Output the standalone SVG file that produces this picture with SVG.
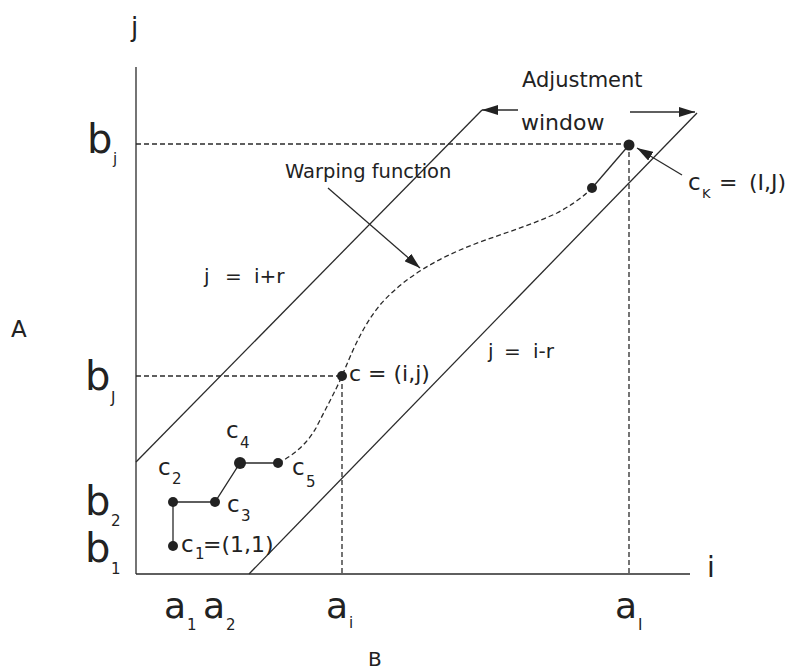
<svg xmlns="http://www.w3.org/2000/svg" width="799" height="671" viewBox="0 0 799 671">
<defs>
<style>
.ln{stroke:#2a2a2a;stroke-width:1.3;fill:none}
.ds{stroke:#2a2a2a;stroke-width:1.3;fill:none;stroke-dasharray:5 3}
.t{font-family:"DejaVu Sans","Liberation Sans",Arial,sans-serif;fill:#222}
.big{font-size:40px}
.ax{font-size:36px}
.mid{font-size:23px}
.lab{font-size:22px}
.sub{font-size:15px}
.dot{fill:#222}
</style>
<marker id="ah" viewBox="0 0 16 10" refX="16" refY="5" markerWidth="16" markerHeight="10" markerUnits="userSpaceOnUse" orient="auto">
<path d="M0,0 L16,5 L0,10 Z" fill="#222"/>
</marker>
</defs>
<rect width="799" height="671" fill="#fff"/>

<g id="axes">
<line class="ln" x1="136" y1="67" x2="136" y2="574"/>
<line class="ln" x1="136" y1="574" x2="690" y2="574"/>
<text class="t" x="131" y="36" font-size="26">j</text>
<text class="t" x="707" y="577" font-size="28">i</text>
<text class="t" x="11" y="337" font-size="23">A</text>
<text class="t" x="368" y="666" font-size="20">B</text>
</g>

<g id="ticks">
<text class="t big" x="87" y="153">b</text><text class="t sub" x="113" y="164" font-size="17">j</text>
<text class="t big" x="85" y="390">b</text><text class="t sub" x="111" y="403">J</text>
<text class="t big" x="85" y="515">b</text><text class="t sub" x="111" y="526">2</text>
<text class="t big" x="85" y="562">b</text><text class="t sub" x="111" y="574">1</text>
<text class="t ax" x="164" y="618">a</text><text class="t sub" x="187" y="630">1</text>
<text class="t ax" x="203" y="618">a</text><text class="t sub" x="226" y="630">2</text>
<text class="t ax" x="326" y="618">a</text><text class="t sub" x="349" y="628" font-size="18">i</text>
<text class="t ax" x="615" y="618">a</text><text class="t sub" x="638" y="630">I</text>
</g>

<g id="connectors">
<line class="ln" x1="136" y1="462" x2="482" y2="110"/>
<line class="ln" x1="249" y1="574" x2="697" y2="113"/>
<line class="ds" x1="136" y1="144" x2="629" y2="144"/>
<line class="ds" x1="629" y1="144" x2="629" y2="574"/>
<line class="ds" x1="136" y1="376" x2="342" y2="376"/>
<line class="ds" x1="342" y1="376" x2="342" y2="574"/>
<path class="ds" d="M278,463 C295,455 308,442 316,428 C325,410 335,392 342,376 C352,352 362,327 380,305 C398,284 425,265 460,250 C490,237 525,228 557,213 C570,206 582,198 592,188"/>
<polyline class="ln" points="173,546 173,502 215,502 240,463 278,463"/>
<line class="ln" x1="592" y1="188" x2="629" y2="145"/>
<line class="ln" x1="518" y1="110" x2="482" y2="110" marker-end="url(#ah)"/>
<line class="ln" x1="630" y1="112" x2="695" y2="112" marker-end="url(#ah)"/>
<line class="ln" x1="328" y1="188" x2="420" y2="268" marker-end="url(#ah)"/>
<line class="ln" x1="682" y1="175" x2="637" y2="148" marker-end="url(#ah)"/>
</g>

<g id="c1"><circle class="dot" cx="173" cy="546" r="5"/>
<text class="t mid" x="181" y="552">c</text><text class="t sub" x="195" y="559">1</text><text class="t lab" x="203" y="552">=(1,1)</text></g>
<g id="c2"><circle class="dot" cx="173" cy="502" r="5"/>
<text class="t mid" x="158" y="475">c</text><text class="t sub" x="172" y="484">2</text></g>
<g id="c3"><circle class="dot" cx="215" cy="502" r="5"/>
<text class="t mid" x="227" y="512">c</text><text class="t sub" x="241" y="521">3</text></g>
<g id="c4"><circle class="dot" cx="240" cy="463" r="6"/>
<text class="t mid" x="226" y="438">c</text><text class="t sub" x="240" y="448">4</text></g>
<g id="c5"><circle class="dot" cx="278" cy="463" r="5"/>
<text class="t mid" x="292" y="475">c</text><text class="t sub" x="306" y="487">5</text></g>
<g id="c"><circle class="dot" cx="342" cy="376" r="5"/>
<text class="t lab" x="349" y="381">c = (i,j)</text></g>
<g id="cprev"><circle class="dot" cx="592" cy="188" r="5"/></g>
<g id="cK"><circle class="dot" cx="629" cy="145" r="5.5"/>
<text class="t mid" x="688" y="190">c</text><text class="t" font-size="13" x="702" y="198">K</text><text class="t lab" x="719" y="190">=</text><text class="t lab" x="749" y="190">(I,J)</text></g>

<g id="labels">
<text class="t" font-size="21" x="522" y="87">Adjustment</text>
<text class="t" font-size="22" x="521" y="130">window</text>
<text class="t" font-size="19.5" x="285" y="178">Warping function</text>
<text class="t" font-size="20" x="204" y="283">j</text><text class="t" font-size="20" x="225" y="283">=</text><text class="t" font-size="20" x="254" y="283">i+r</text>
<text class="t" font-size="20" x="488" y="358">j</text><text class="t" font-size="20" x="504" y="358">=</text><text class="t" font-size="20" x="533" y="358">i-r</text>
</g>
</svg>
